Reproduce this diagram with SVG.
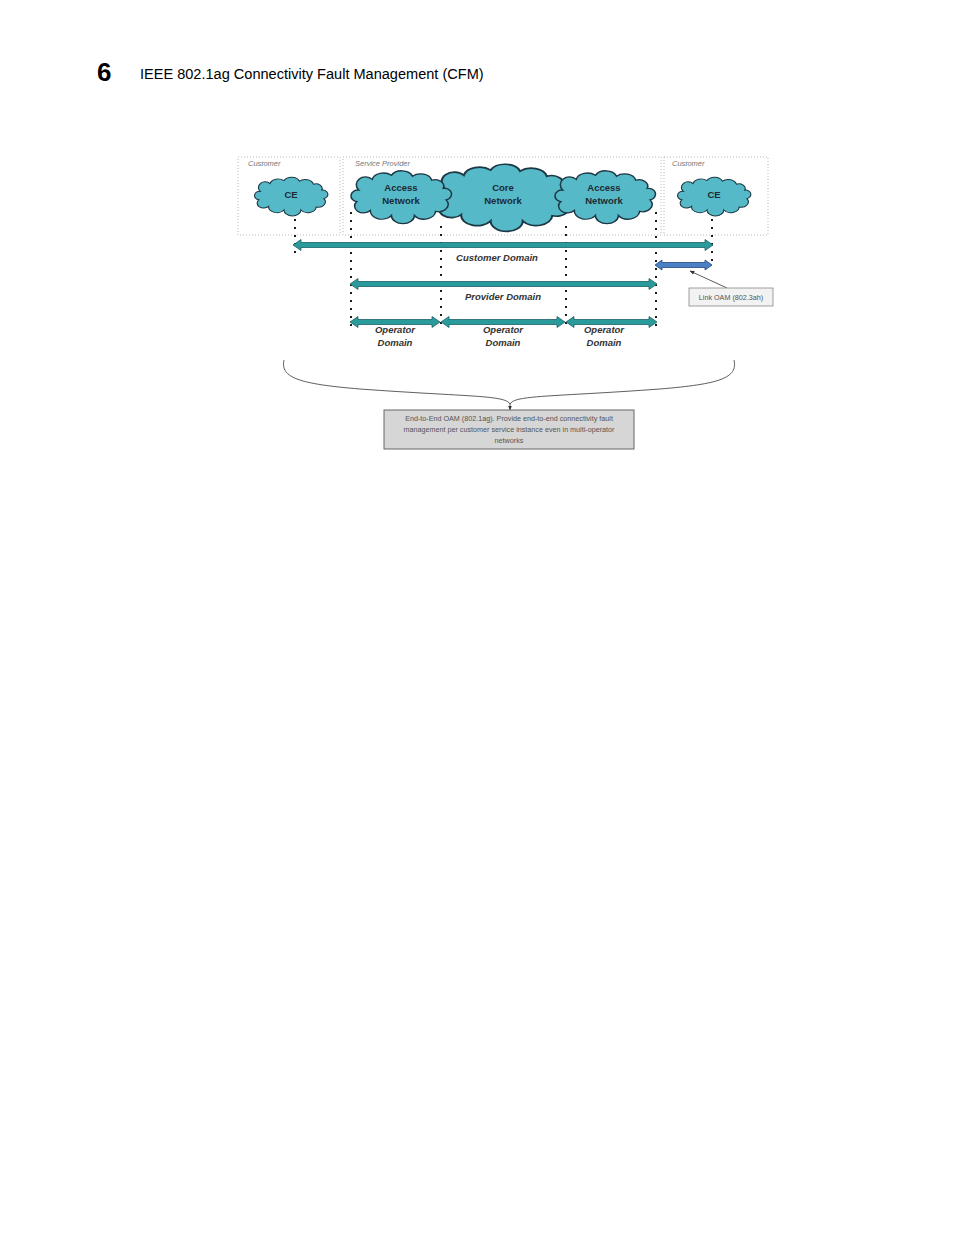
<svg xmlns="http://www.w3.org/2000/svg" xmlns:xlink="http://www.w3.org/1999/xlink" width="954" height="1235" viewBox="0 0 954 1235">
<style>
.zone{fill:none;stroke:#b8b8b8;stroke-width:1;stroke-dasharray:1 2}
.zlab{font-family:"Liberation Sans",Arial,sans-serif;font-size:7.5px;font-style:italic;fill:#777}
.cloud{fill:#56b9c8;stroke:#1c3844;stroke-width:1.6;vector-effect:non-scaling-stroke}
.ctxt{font-family:"Liberation Sans",Arial,sans-serif;font-size:9.5px;font-weight:bold;fill:#1d2a33;text-anchor:middle}
.vdot{stroke:#1a1a1a;stroke-width:2;stroke-dasharray:2 6;fill:none}
.tarrow{fill:#2a9b9b;stroke:#1c5f66;stroke-width:0.8}
.barrow{fill:#4a80c4;stroke:#24477e;stroke-width:0.8}
.dlab{font-family:"Liberation Sans",Arial,sans-serif;font-size:9.5px;font-weight:bold;font-style:italic;fill:#333;text-anchor:middle}
.note{font-family:"Liberation Sans",Arial,sans-serif;font-size:7.2px;fill:#555;text-anchor:middle}
.thin{fill:none;stroke:#333;stroke-width:0.8}
</style>
<defs>
<path id="cl" d="M-44,-6 A9,9 0 0 1 -30,-19 A12,10 0 0 1 -10,-24 A12,10 0 0 1 12,-23 A12,10 0 0 1 32,-18 A9,8 0 0 1 44,-8 A7,7 0 0 1 47,6 A10,9 0 0 1 36,20 A12,10 0 0 1 14,25 A12,10 0 0 1 -10,25 A12,10 0 0 1 -32,19 A9,8 0 0 1 -46,8 A7,7 0 0 1 -44,-6 Z"/>
<marker id="ah" viewBox="0 0 10 10" refX="9" refY="5" markerWidth="6" markerHeight="6" orient="auto"><path d="M0,1 L10,5 L0,9 Z" fill="#333"/></marker>
</defs>

<g id="header">
<text x="97" y="81" font-family="Liberation Sans,Arial,sans-serif" font-size="26" font-weight="bold" fill="#000">6</text>
<text x="140" y="79" font-family="Liberation Sans,Arial,sans-serif" font-size="14.55" fill="#000">IEEE 802.1ag Connectivity Fault Management (CFM)</text>
</g>

<g id="zone-customer-left"><rect class="zone" x="238" y="157" width="102" height="78"/><text class="zlab" x="248" y="166">Customer</text></g>
<g id="zone-service-provider"><rect class="zone" x="343" y="157" width="318" height="78"/><text class="zlab" x="355" y="166">Service Provider</text></g>
<g id="zone-customer-right"><rect class="zone" x="664" y="157" width="104" height="78"/><text class="zlab" x="672" y="166">Customer</text></g>

<g id="connectors">
<line class="vdot" x1="295" y1="219" x2="295" y2="256"/>
<line class="vdot" x1="351" y1="212" x2="351" y2="330"/>
<line class="vdot" x1="441" y1="226" x2="441" y2="330"/>
<line class="vdot" x1="566" y1="226" x2="566" y2="330"/>
<line class="vdot" x1="656" y1="212" x2="656" y2="330"/>
<line class="vdot" x1="712" y1="219" x2="712" y2="262"/>
<polygon class="tarrow" points="293,245 301,239.5 301,242.5 705,242.5 705,239.5 713,245 705,250.5 705,247.5 301,247.5 301,250.5"/>
<polygon class="barrow" points="655,265 662,260 662,262.5 705,262.5 705,260 712,265 705,270 705,267.5 662,267.5 662,270"/>
<polygon class="tarrow" points="350,284 358,278.5 358,281.5 649,281.5 649,278.5 657,284 649,289.5 649,286.5 358,286.5 358,289.5"/>
<polygon class="tarrow" points="350,322 358,316.5 358,319.5 432,319.5 432,316.5 440,322 432,327.5 432,324.5 358,324.5 358,327.5"/>
<polygon class="tarrow" points="441,322 449,316.5 449,319.5 557,319.5 557,316.5 565,322 557,327.5 557,324.5 449,324.5 449,327.5"/>
<polygon class="tarrow" points="566,322 574,316.5 574,319.5 649,319.5 649,316.5 657,322 649,327.5 649,324.5 574,324.5 574,327.5"/>
<line class="thin" x1="727" y1="288" x2="690" y2="271" marker-end="url(#ah)"/>
<path class="thin" d="M284,360 C280,378 300,384 360,389 C470,397 505,395 510,404 C515,395 550,397 660,389 C720,384 738,378 734,360"/>
<line class="thin" x1="510" y1="403" x2="510" y2="410" marker-end="url(#ah)"/>
</g>

<g id="core-network"><use href="#cl" class="cloud" transform="translate(504,195) scale(1.34,1.04)"/><text class="ctxt" x="503" y="191">Core</text><text class="ctxt" x="503" y="204">Network</text></g>
<g id="ce-left"><use href="#cl" class="cloud" transform="translate(291,195) scale(0.7,0.6)"/><text class="ctxt" x="291" y="198">CE</text></g>
<g id="access-network-left"><use href="#cl" class="cloud" transform="translate(401,195) scale(0.96,0.82)"/><text class="ctxt" x="401" y="191">Access</text><text class="ctxt" x="401" y="204">Network</text></g>
<g id="access-network-right"><use href="#cl" class="cloud" transform="translate(605,195) scale(0.96,0.82)"/><text class="ctxt" x="604" y="191">Access</text><text class="ctxt" x="604" y="204">Network</text></g>
<g id="ce-right"><use href="#cl" class="cloud" transform="translate(714,195) scale(0.7,0.6)"/><text class="ctxt" x="714" y="198">CE</text></g>

<g id="label-customer-domain"><text class="dlab" x="497" y="261">Customer Domain</text></g>
<g id="label-provider-domain"><text class="dlab" x="503" y="300">Provider Domain</text></g>
<g id="label-operator-1"><text class="dlab" x="395" y="333">Operator</text><text class="dlab" x="395" y="346">Domain</text></g>
<g id="label-operator-2"><text class="dlab" x="503" y="333">Operator</text><text class="dlab" x="503" y="346">Domain</text></g>
<g id="label-operator-3"><text class="dlab" x="604" y="333">Operator</text><text class="dlab" x="604" y="346">Domain</text></g>

<g id="link-oam-box"><rect x="689" y="288" width="84" height="18" fill="#f2f2f2" stroke="#888" stroke-width="0.8"/><text class="note" x="731" y="299.5">Link OAM (802.3ah)</text></g>

<g id="end-to-end-box"><rect x="384" y="410" width="250" height="39" fill="#d6d6d6" stroke="#666" stroke-width="1"/>
<text class="note" x="509" y="421">End-to-End OAM (802.1ag). Provide end-to-end connectivity fault</text>
<text class="note" x="509" y="432">management per customer service instance even in multi-operator</text>
<text class="note" x="509" y="443">networks</text></g>
</svg>
